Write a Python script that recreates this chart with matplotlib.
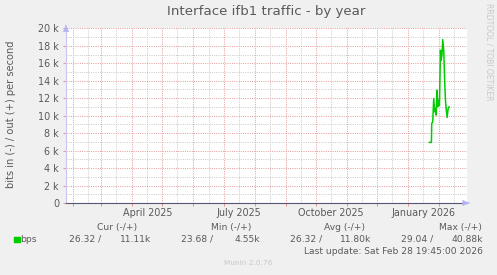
import matplotlib
matplotlib.use("Agg")
import matplotlib.pyplot as plt
import matplotlib.dates as mdates
import matplotlib.transforms as mtrans
from datetime import datetime, timedelta

# ---------------- data ----------------
dates = ["2026-01-22 08:00", "2026-01-24 08:00", "2026-01-24 15:00", "2026-01-25 15:00",
         "2026-01-26 15:00", "2026-01-27 15:00", "2026-01-28 08:00", "2026-01-29 00:00",
         "2026-01-30 00:00", "2026-01-30 15:00", "2026-01-31 15:00", "2026-02-01 08:00",
         "2026-02-02 08:00", "2026-02-03 00:00", "2026-02-03 20:00", "2026-02-04 15:00",
         "2026-02-05 15:00", "2026-02-06 15:00", "2026-02-07 08:00", "2026-02-08 00:00",
         "2026-02-09 00:00", "2026-02-10 00:00", "2026-02-11 00:00"]
bps_out = [6940, 6940, 9110, 9290, 11970, 10430, 10820, 10060, 12910, 11010, 11770, 11200,
           17490, 16340, 16910, 18710, 17490, 13710, 11770, 10820, 9790, 10820, 11010]

y_ticks = [0, 2000, 4000, 6000, 8000, 10000, 12000, 14000, 16000, 18000, 20000]
y_tick_labels = ["0", "2 k", "4 k", "6 k", "8 k", "10 k", "12 k", "14 k", "16 k", "18 k", "20 k"]
x_label_dates = ["2025-04-16", "2025-07-16", "2025-10-16", "2026-01-16"]
x_tick_labels = ["April 2025", "July 2025", "October 2025", "January 2026"]

title = "Interface ifb1 traffic - by year"
ylabel = "bits in (-) / out (+) per second"
legend_name = "bps"
stat_headers = ["Cur (-/+)", "Min (-/+)", "Avg (-/+)", "Max (-/+)"]
stat_in = ["26.32 /", "23.68 /", "26.32 /", "29.04 /"]
stat_out = ["11.11k", "4.55k", "11.80k", "40.88k"]
last_update = "Last update: Sat Feb 28 19:45:00 2026"
end_time = datetime(2026, 2, 28, 19, 45)
span_days = 400

# ---------------- figure ----------------
W, H = 497, 275
BG = "#F0F0F0"
TXT = "#5a5a5a"
FS = 6.6
fig = plt.figure(figsize=(W / 100, H / 100), dpi=100, facecolor=BG)
plt.rcParams["font.family"] = ["DejaVu Sans"]

left, right, top, bottom = 66, 467, 28.3, 203
ax = fig.add_axes([left / W, 1 - bottom / H, (right - left) / W, (bottom - top) / H])
ax.set_facecolor("white")

t = [datetime.strptime(d, "%Y-%m-%d %H:%M") for d in dates]
ax.plot(t, bps_out, color="#00CC00", lw=1.1, solid_joinstyle="round", zorder=5)

ax.set_xlim(end_time - timedelta(days=span_days), end_time)
ax.set_ylim(0, 20000)

# grids
ax.set_yticks(y_ticks)
ax.set_yticklabels(y_tick_labels)
ax.yaxis.set_minor_locator(matplotlib.ticker.MultipleLocator(1000))
ax.xaxis.set_major_locator(mdates.MonthLocator(bymonthday=1))
ax.xaxis.set_minor_locator(mdates.MonthLocator(bymonthday=16))
ax.xaxis.set_major_formatter(matplotlib.ticker.NullFormatter())
ax.grid(which="minor", color="#c8c8c8", lw=0.7, ls=(0, (1, 1.3)))
ax.grid(which="major", color="#e49a9a", lw=0.7, ls=(0, (1, 1.3)))
ax.set_axisbelow(True)

ax.tick_params(axis="y", which="major", length=2, color="#e49a9a", labelsize=FS + 0.3, labelcolor=TXT, pad=3)
ax.tick_params(axis="y", which="minor", length=0)
ax.tick_params(axis="x", which="major", length=2, color="#e49a9a", direction="out")
ax.tick_params(axis="x", which="minor", length=0)

for s in ["top", "right"]:
    ax.spines[s].set_visible(False)
ax.spines["bottom"].set_color("#555577")
ax.spines["bottom"].set_linewidth(0.8)
ax.spines["left"].set_color("#c8c8f0")
ax.spines["left"].set_linewidth(0.8)

# arrows
ax.annotate("", xy=(1.013, 0), xytext=(0.999, 0), xycoords="axes fraction",
            arrowprops=dict(arrowstyle="-|>,head_length=0.4,head_width=0.18", color="#b4b4f4", lw=0.6), clip_on=False)
ax.annotate("", xy=(0, 1.035), xytext=(0, 0.999), xycoords="axes fraction",
            arrowprops=dict(arrowstyle="-|>,head_length=0.4,head_width=0.18", color="#b4b4f4", lw=0.6), clip_on=False)

# x labels
trans = mtrans.blended_transform_factory(ax.transData, fig.transFigure)
for d, lab in zip(x_label_dates, x_tick_labels):
    ax.text(datetime.strptime(d, "%Y-%m-%d"), 1 - 212.5 / H, lab, transform=trans,
            ha="center", va="center", fontsize=FS + 0.3, color=TXT)

def fx(px):
    return px / W

def fy(py):
    return 1 - py / H

fig.text(fx(266.5), fy(12), title, ha="center", va="center", fontsize=9.6, color=TXT)
fig.text(fx(11), fy(114), ylabel, ha="center", va="center", rotation=90, fontsize=7.1, color=TXT)
fig.text(fx(489), fy(3), "RRDTOOL / TOBI OETIKER", ha="center", va="top", rotation=270,
         fontsize=5.5, color="#c8c8c8")

# legend
fig.patches.append(matplotlib.patches.Rectangle((fx(14), fy(242)), 5.5 / W, 5.5 / H,
                                                transform=fig.transFigure, color="#00CC00"))
fig.text(fx(20), fy(239.5), legend_name, ha="left", va="center", fontsize=FS, color=TXT)
head_x = [117.5, 231, 344.5, 460]
in_right = [101.7, 213.3, 322.7, 433.3]
out_right = [151.7, 260, 371.7, 482.7]
for hx, h in zip(head_x, stat_headers):
    fig.text(fx(hx), fy(227.5), h, ha="center", va="center", fontsize=FS, color=TXT)
for xr, s in zip(in_right, stat_in):
    fig.text(fx(xr), fy(239.5), s, ha="right", va="center", fontsize=FS, color=TXT)
for xr, s in zip(out_right, stat_out):
    fig.text(fx(xr), fy(239.5), s, ha="right", va="center", fontsize=FS, color=TXT)
fig.text(fx(482.5), fy(251), last_update, ha="right", va="center", fontsize=FS, color=TXT)
fig.text(fx(248), fy(263), "Munin 2.0.76", ha="center", va="center", fontsize=5.3, color="#c8c8c8")

fig.savefig("out.png", dpi=100, facecolor=BG)
